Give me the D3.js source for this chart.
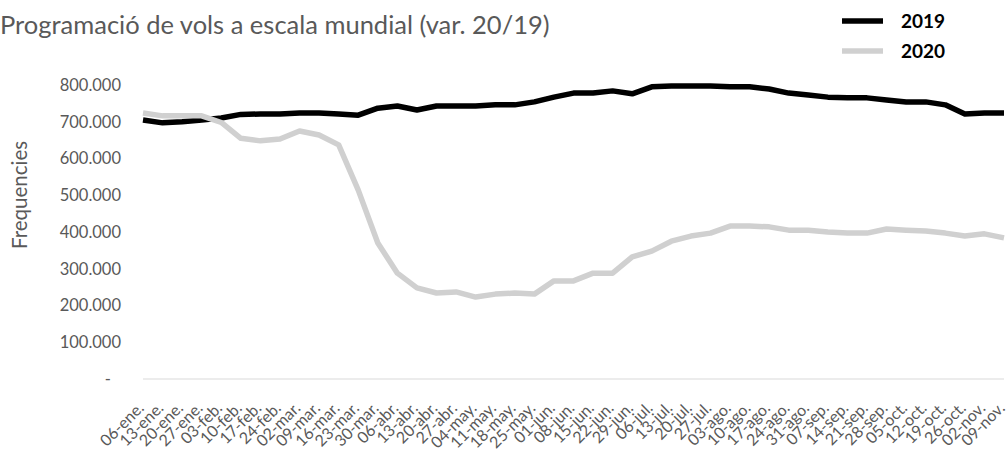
<!DOCTYPE html>
<html>
<head>
<meta charset="utf-8">
<script src="https://cdn.jsdelivr.net/npm/d3@7"></script>
<style>
    body { margin: 0; background: #fff; }
    text { font-family: Lato, "Open Sans", sans-serif; }
</style>
</head>
<body>
<svg id="chart" width="1007" height="451"></svg>
<script>
// Weeks (category axis)
const weeks = ["06-ene.", "13-ene.", "20-ene.", "27-ene.", "03-feb.", "10-feb.", "17-feb.", "24-feb.",
    "02-mar.", "09-mar.", "16-mar.", "23-mar.", "30-mar.", "06-abr.", "13-abr.", "20-abr.", "27-abr.",
    "04-may.", "11-may.", "18-may.", "25-may.", "01-jun.", "08-jun.", "15-jun.", "22-jun.", "29-jun.",
    "06-jul.", "13-jul.", "20-jul.", "27-jul.", "03-ago.", "10-ago.", "17-ago.", "24-ago.", "31-ago.",
    "07-sep.", "14-sep.", "21-sep.", "28-sep.", "05-oct.", "12-oct.", "19-oct.", "26-oct.", "02-nov.", "09-nov."];

// Flight frequencies
const values2019 = [705000, 697000, 700000, 705000, 710000, 720000, 721000, 721000, 724000, 724000,
    721000, 718000, 737000, 743000, 732000, 743000, 743000, 743000, 746000, 746000,
    754000, 767000, 778000, 778000, 784000, 776000, 795000, 797000, 797000, 797000,
    795000, 795000, 789000, 778000, 773000, 767000, 765000, 765000, 759000, 754000,
    754000, 746000, 721000, 724000, 724000];

const values2020 = [724000, 716000, 716000, 716000, 698000, 655000, 648000, 653000, 675000, 664000,
    637000, 514000, 370000, 288000, 248000, 234000, 237000, 223000, 231000, 234000,
    231000, 267000, 267000, 288000, 288000, 332000, 348000, 375000, 389000, 397000,
    416000, 416000, 414000, 405000, 405000, 400000, 397000, 397000, 408000, 405000,
    403000, 397000, 389000, 395000, 384000];

const yTicks = [0, 100000, 200000, 300000, 400000, 500000, 600000, 700000, 800000];

const textColor = "#595959";

const svg = d3.select("#chart");

const plotLeft = 143;
const plotRight = 1004;
const plotBottom = 379;
const plotTop = 85;

const xScale = d3.scalePoint()
    .domain(weeks)
    .range([plotLeft, plotRight]);

const yScale = d3.scaleLinear()
    .domain([0, 800000])
    .range([plotBottom, plotTop]);

// Title
svg.append("text")
    .attr("x", 0)
    .attr("y", 34)
    .attr("fill", textColor)
    .style("font-size", "25.5px")
    .text("Programació de vols a escala mundial (var. 20/19)");

// Y axis labels
const fmt = v => v === 0 ? "-" : d3.format(",")(v).replace(/,/g, ".");

svg.append("g")
    .selectAll("text")
    .data(yTicks)
    .join("text")
    .attr("x", v => v === 0 ? 111 : 121)
    .attr("y", v => yScale(v))
    .attr("dy", "0.35em")
    .attr("text-anchor", "end")
    .attr("fill", textColor)
    .style("font-size", "16.5px")
    .text(fmt);

// Y axis title
svg.append("text")
    .attr("transform", "translate(27,195) rotate(-90)")
    .attr("text-anchor", "middle")
    .attr("fill", textColor)
    .style("font-size", "20.5px")
    .text("Frequencies");

// X axis line
svg.append("line")
    .attr("x1", plotLeft)
    .attr("x2", plotRight)
    .attr("y1", plotBottom)
    .attr("y2", plotBottom)
    .attr("stroke", "#d9d9d9")
    .attr("stroke-width", 1);

// X axis labels (rotated)
svg.append("g")
    .selectAll("text")
    .data(weeks)
    .join("text")
    .attr("transform", d => "translate(" + (xScale(d) - 2) + "," + 405 + ") rotate(-45)")
    .attr("text-anchor", "end")
    .attr("dy", "0.35em")
    .attr("fill", textColor)
    .style("font-size", "16px")
    .text(d => d);

// Lines
const line = d3.line()
    .x((d, i) => xScale(weeks[i]))
    .y(d => yScale(d));

svg.append("path")
    .datum(values2019)
    .attr("fill", "none")
    .attr("stroke", "#000000")
    .attr("stroke-width", 5.5)
    .attr("stroke-linejoin", "round")
    .attr("d", line);

svg.append("path")
    .datum(values2020)
    .attr("fill", "none")
    .attr("stroke", "#d0d0d0")
    .attr("stroke-width", 5.5)
    .attr("stroke-linejoin", "round")
    .attr("d", line);

// Legend
const legendItems = [
    { name: "2019", color: "#000000", y: 21 },
    { name: "2020", color: "#d0d0d0", y: 51 }
];

const legend = svg.append("g");

legend.selectAll("line")
    .data(legendItems)
    .join("line")
    .attr("x1", 842)
    .attr("x2", 883)
    .attr("y1", d => d.y)
    .attr("y2", d => d.y)
    .attr("stroke", d => d.color)
    .attr("stroke-width", 5.5);

legend.selectAll("text")
    .data(legendItems)
    .join("text")
    .attr("x", 901)
    .attr("y", d => d.y + 7)
    .style("font-size", "19px")
    .style("font-weight", "bold")
    .attr("fill", "#000")
    .text(d => d.name);
</script>
</body>
</html>
